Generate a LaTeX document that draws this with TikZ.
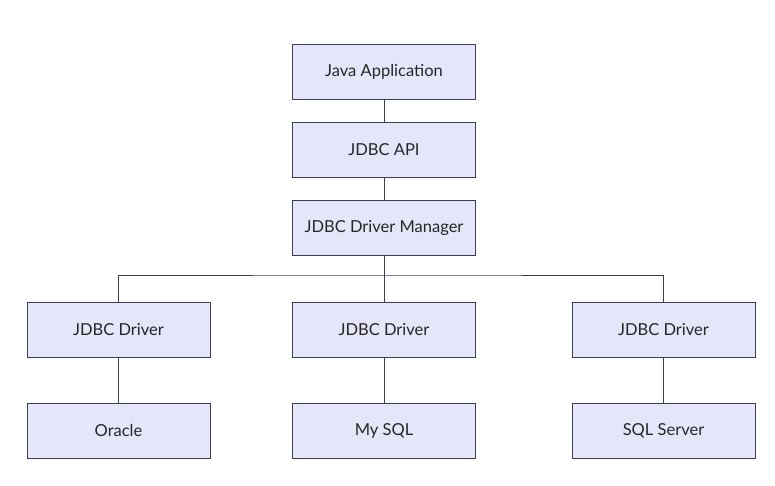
\documentclass[tikz,border=0pt]{standalone}
\usepackage{fontspec}
\setmainfont{Lato}
\definecolor{boxfill}{HTML}{E6E6FA}
\definecolor{boxline}{HTML}{3C3C5A}
\begin{document}
\begin{tikzpicture}[x=1pt,y=-1pt,
  box/.style={draw=boxline,fill=boxfill,line width=1pt,minimum width=183pt,minimum height=55pt,inner sep=0pt,font=\fontsize{16.5}{19}\selectfont,text=black!85},
  link/.style={draw=boxline,line width=1pt}]
\useasboundingbox[fill=white] (0,0) rectangle (775,485);
\node[box] (app) at (384,71.5) {Java Application};
\node[box] (api) at (384,149.5) {JDBC API};
\node[box] (mgr) at (384,227.5) {JDBC Driver Manager};
\node[box] (d1) at (118.5,329.5) {JDBC Driver};
\node[box] (d2) at (384,329.5) {JDBC Driver};
\node[box] (d3) at (663.5,329.5) {JDBC Driver};
\node[box] (o) at (118.5,430.5) {Oracle};
\node[box] (m) at (384,430.5) {My SQL};
\node[box] (s) at (663.5,430.5) {SQL Server};
\coordinate (bus) at (384,275);
\draw[link] (app) -- (api);
\draw[link] (api) -- (mgr);
\draw[link] (mgr) -- (d2);
\draw[link] (d1.north) |- (bus) -| (d3.north);
\draw[link] (d1) -- (o);
\draw[link] (d2) -- (m);
\draw[link] (d3) -- (s);
\end{tikzpicture}
\end{document}
